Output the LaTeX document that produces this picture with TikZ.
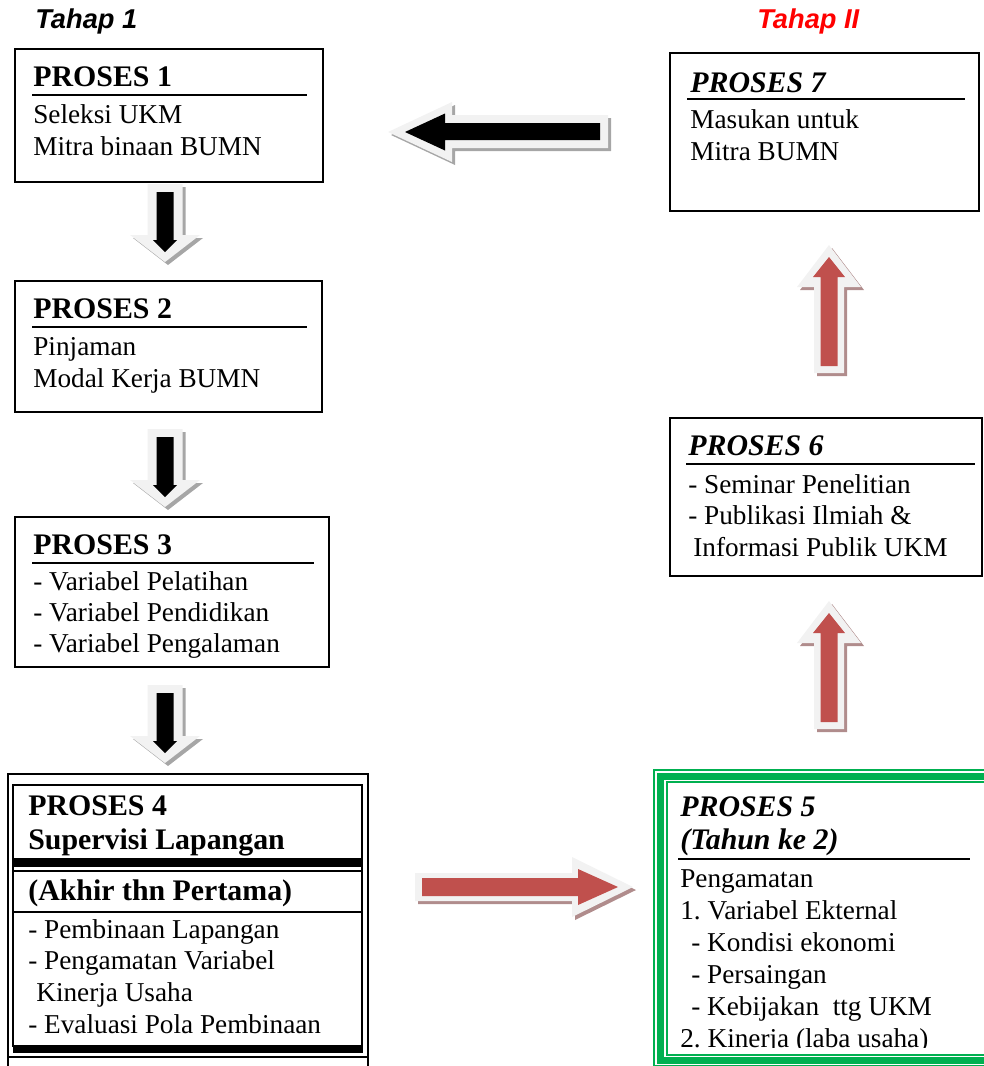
\documentclass[tikz,border=0pt]{standalone}
\usepackage{fontspec}
\setmainfont{Liberation Serif}
\newfontfamily\tahapfont{Liberation Sans}
\usepackage{tikz}
\frenchspacing
\definecolor{arrowred}{HTML}{C0504D}
\definecolor{arrowrim}{HTML}{F2F2F2}
\definecolor{shadowgray}{HTML}{A6A6A6}
\definecolor{shadowred}{HTML}{B08C8C}
\definecolor{boxgreen}{HTML}{00B050}
\tikzset{
  txt/.style={anchor=base west, inner sep=0pt, font=\fontsize{15.5}{18}\selectfont},
  head/.style={anchor=base west, inner sep=0pt, font=\fontsize{17}{20}\selectfont\bfseries},
  headit/.style={anchor=base west, inner sep=0pt, font=\fontsize{17}{20}\selectfont\bfseries\itshape},
  tahap/.style={anchor=base west, inner sep=0pt, font=\fontsize{15.5}{18}\selectfont\tahapfont\bfseries\itshape},
  procbox/.style={draw, line width=1pt},
  uline/.style={line width=1.1pt}
}

\begin{document}
\begin{tikzpicture}[x=0.02cm, y=-0.02cm]
\useasboundingbox (0,0) rectangle (984,1066);
% stage labels
\node[tahap] (tahap1) at (35,28) {Tahap 1};
\node[tahap, text=red] (tahap2) at (757,28) {Tahap II};
% process 1
\draw[procbox] (15,49) rectangle (323,182);
\node[head] (p1) at (33,86) {PROSES 1};
\draw[uline] (32,95) -- (307,95);
\node[txt] (p1a) at (33,123) {Seleksi UKM};
\node[txt] (p1b) at (33,155) {Mitra binaan BUMN};
% process 2
\draw[procbox] (15,281) rectangle (322,412);
\node[head] (p2) at (33,318) {PROSES 2};
\draw[uline] (32,327) -- (307,327);
\node[txt] (p2a) at (33,355) {Pinjaman};
\node[txt] (p2b) at (33,387) {Modal Kerja BUMN};
% process 3
\draw[procbox] (15,517) rectangle (329,667);
\node[head] (p3) at (33,554) {PROSES 3};
\draw[uline] (32,563) -- (314,563);
\node[txt] (p3a) at (33,590) {- Variabel Pelatihan};
\node[txt] (p3b) at (33,621) {- Variabel Pendidikan};
\node[txt] (p3c) at (33,652) {- Variabel Pengalaman};
% process 4
\draw[line width=0.6pt] (8,1070) -- (8,774) -- (368,774) -- (368,1070);
\draw[line width=1.3pt] (13,785) rectangle (362,1046);
\fill (13,858) rectangle (362,867);
\draw[line width=1.2pt] (13,871) -- (362,871);
\draw[line width=1pt] (13,912) -- (362,912);
\fill (13,1046) rectangle (363,1053);
\draw[line width=0.6pt] (8,1057) -- (368,1057);
\node[head] (p4) at (28,815) {PROSES 4};
\node[head] (p4t) at (28,849) {Supervisi Lapangan};
\node[head] (p4s) at (28,900) {(Akhir thn Pertama)};
\node[txt] (p4a) at (28,938) {- Pembinaan Lapangan};
\node[txt] (p4b) at (28,969) {- Pengamatan Variabel};
\node[txt] (p4c) at (36,1001) {Kinerja Usaha};
\node[txt] (p4d) at (28,1033) {- Evaluasi Pola Pembinaan};
% process 5
\draw[boxgreen, line width=0.6pt] (1000,770) -- (654,770) -- (654,1065.5) -- (1000,1065.5);
\draw[boxgreen, line width=3.7pt] (1000,776.5) -- (660.5,776.5) -- (660.5,1060.5) -- (1000,1060.5);
\draw[boxgreen, line width=0.6pt] (1000,782) -- (667,782) -- (667,1055) -- (1000,1055);
\begin{scope}
\clip (667,782) rectangle (984,1047);
\node[headit] (p5) at (680,816) {PROSES 5};
\node[headit] (p5t) at (680,849) {(Tahun ke 2)};
\draw[uline] (678,859) -- (970,859);
\node[txt] (p5a) at (680,887) {Pengamatan};
\node[txt] (p5b) at (680,919) {1. Variabel Ekternal};
\node[txt] (p5c) at (691,951) {- Kondisi ekonomi};
\node[txt] (p5d) at (691,983) {- Persaingan};
\node[txt] (p5e) at (691,1015) {- Kebijakan\ \ ttg UKM};
\node[txt] (p5f) at (680,1047) {2. Kinerja (laba usaha)};
\end{scope}
% process 6
\draw[procbox] (670,418) rectangle (982,576);
\node[headit] (p6) at (688,455) {PROSES 6};
\draw[uline] (686,464) -- (975,464);
\node[txt] (p6a) at (688,493) {- Seminar Penelitian};
\node[txt] (p6b) at (688,524) {- Publikasi Ilmiah \&};
\node[txt] (p6c) at (693,556) {Informasi Publik UKM};
% process 7
\draw[procbox] (670,53) rectangle (979,211);
\node[headit] (p7) at (690,92) {PROSES 7};
\draw[uline] (687,99) -- (965,99);
\node[txt] (p7a) at (690,128) {Masukan untuk};
\node[txt] (p7b) at (690,160) {Mitra BUMN};
% block arrows down (tahap 1)
\begin{scope}[shift={(165,184)}]
\fill[shadowgray] (-14.5,3) -- (20.5,3) -- (20.5,54) -- (38,54) -- (3,81) -- (-32,54) -- (-14.5,54) -- cycle;
\fill[arrowrim] (-17.5,0) -- (17.5,0) -- (17.5,51) -- (35,51) -- (0,78) -- (-35,51) -- (-17.5,51) -- cycle;
\fill (-8.5,8) -- (8.5,8) -- (8.5,56) -- (12,56) -- (0,68) -- (-12,56) -- (-8.5,56) -- cycle;
\end{scope}
\begin{scope}[shift={(165,429)}]
\fill[shadowgray] (-14.5,3) -- (20.5,3) -- (20.5,54) -- (38,54) -- (3,81) -- (-32,54) -- (-14.5,54) -- cycle;
\fill[arrowrim] (-17.5,0) -- (17.5,0) -- (17.5,51) -- (35,51) -- (0,78) -- (-35,51) -- (-17.5,51) -- cycle;
\fill (-8.5,8) -- (8.5,8) -- (8.5,56) -- (12,56) -- (0,68) -- (-12,56) -- (-8.5,56) -- cycle;
\end{scope}
\begin{scope}[shift={(165,685)}]
\fill[shadowgray] (-14.5,3) -- (20.5,3) -- (20.5,54) -- (38,54) -- (3,81) -- (-32,54) -- (-14.5,54) -- cycle;
\fill[arrowrim] (-17.5,0) -- (17.5,0) -- (17.5,51) -- (35,51) -- (0,78) -- (-35,51) -- (-17.5,51) -- cycle;
\fill (-8.5,8) -- (8.5,8) -- (8.5,56) -- (12,56) -- (0,68) -- (-12,56) -- (-8.5,56) -- cycle;
\end{scope}
% block arrow right (tahap 1 to tahap II)
\begin{scope}[shift={(415,887)}]
\fill[shadowred] (3,-11) -- (160,-11) -- (160,-27) -- (221,3) -- (160,33) -- (160,17) -- (3,17) -- cycle;
\fill[arrowrim] (0,-14) -- (157,-14) -- (157,-30) -- (218,0) -- (157,30) -- (157,14) -- (0,14) -- cycle;
\fill[arrowred] (7,-9) -- (163,-9) -- (163,-18) -- (203,0) -- (163,18) -- (163,9) -- (7,9) -- cycle;
\end{scope}
% block arrows up (tahap II)
\begin{scope}[shift={(829,601)}]
\fill[shadowred] (3,3) -- (35,45) -- (18,45) -- (18,131) -- (-12,131) -- (-12,45) -- (-29,45) -- cycle;
\fill[arrowrim] (0,0) -- (32,42) -- (15,42) -- (15,128) -- (-15,128) -- (-15,42) -- (-32,42) -- cycle;
\fill[arrowred] (0,12) -- (16,32) -- (8.5,32) -- (8.5,121) -- (-8.5,121) -- (-8.5,32) -- (-16,32) -- cycle;
\end{scope}
\begin{scope}[shift={(829,245)}]
\fill[shadowred] (3,3) -- (35,45) -- (18,45) -- (18,131) -- (-12,131) -- (-12,45) -- (-29,45) -- cycle;
\fill[arrowrim] (0,0) -- (32,42) -- (15,42) -- (15,128) -- (-15,128) -- (-15,42) -- (-32,42) -- cycle;
\fill[arrowred] (0,12) -- (16,32) -- (8.5,32) -- (8.5,121) -- (-8.5,121) -- (-8.5,32) -- (-16,32) -- cycle;
\end{scope}
% block arrow left (tahap II back to tahap 1)
\begin{scope}[shift={(388,132)}]
\fill[shadowgray] (3,3) -- (67,-27) -- (67,-14) -- (223,-14) -- (223,19) -- (67,19) -- (67,33) -- cycle;
\fill[arrowrim] (0,0) -- (64,-30) -- (64,-17) -- (220,-17) -- (220,16) -- (64,16) -- (64,30) -- cycle;
\fill (17,0) -- (57,-18.5) -- (57,-9) -- (212,-9) -- (212,8) -- (57,8) -- (57,18.5) -- cycle;
\end{scope}
\end{tikzpicture}
\end{document}
